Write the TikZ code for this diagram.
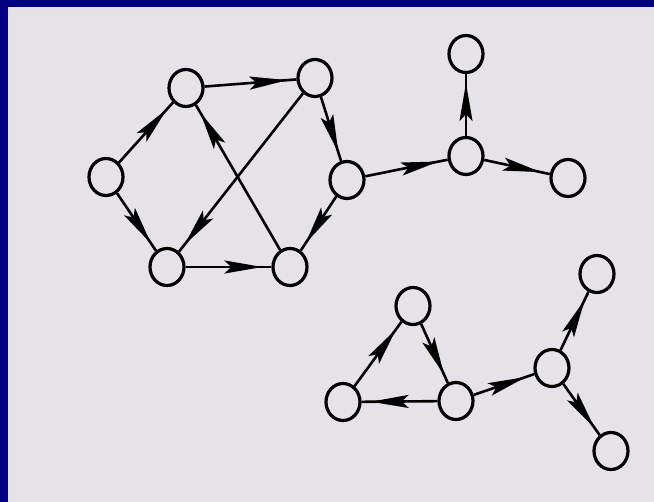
\documentclass[tikz,border=0pt]{standalone}
\usepackage{tikz}
\usetikzlibrary{arrows.meta}
\usetikzlibrary{shapes.geometric}
\usetikzlibrary{decorations.markings}
\definecolor{framenavy}{RGB}{0,0,128}
\definecolor{paper}{RGB}{230,227,232}

\begin{document}
\begin{tikzpicture}[x=1pt,y=-1pt,
  vertex/.style={draw=black, line width=3.2pt, ellipse, inner sep=0pt,
    minimum width=34pt, minimum height=37pt},
  arc/.style={draw=black, line width=2.6pt, postaction={decorate},
    decoration={markings, mark=at position -9pt with
      {\arrow{Stealth[length=38pt,width=13pt,inset=7pt]}}}}]
\fill[framenavy] (0,0) rectangle (654,502);
\fill[paper] (8,7) rectangle (654,502);
\useasboundingbox (0,0) rectangle (654,502);
% upper graph
\node[vertex] (L)  at (106,177) {};
\node[vertex] (TL) at (186,88) {};
\node[vertex] (TR) at (315,78) {};
\node[vertex] (R)  at (347,180) {};
\node[vertex] (BL) at (167,267) {};
\node[vertex] (BR) at (290,267) {};
\node[vertex] (C) at (466,156) {};
\node[vertex] (Ct) at (466,54) {};
\node[vertex] (Cr) at (568,178) {};
  \draw[arc] (L) -- (TL);
  \draw[arc] (L) -- (BL);
  \draw[arc] (TL) -- (TR);
  \draw[arc] (BR) -- (TL);
  \draw[arc] (TR) -- (BL);
  \draw[arc] (TR) -- (R);
  \draw[arc] (R) -- (BR);
  \draw[arc] (BL) -- (BR);
  \draw[arc] (R) -- (C);
  \draw[arc] (C) -- (Ct);
  \draw[arc] (C) -- (Cr);
% lower graph
\node[vertex] (T)  at (413,306) {};
\node[vertex] (P)  at (343,402) {};
\node[vertex] (Q)  at (456,401) {};
\node[vertex] (D)  at (552,368) {};
\node[vertex] (Dt) at (597,274) {};
\node[vertex] (Db) at (611,451) {};
  \draw[arc] (P) -- (T);
  \draw[arc] (T) -- (Q);
  \draw[arc] (Q) -- (P);
  \draw[arc] (Q) -- (D);
  \draw[arc] (D) -- (Dt);
  \draw[arc] (D) -- (Db);
\end{tikzpicture}
\end{document}
